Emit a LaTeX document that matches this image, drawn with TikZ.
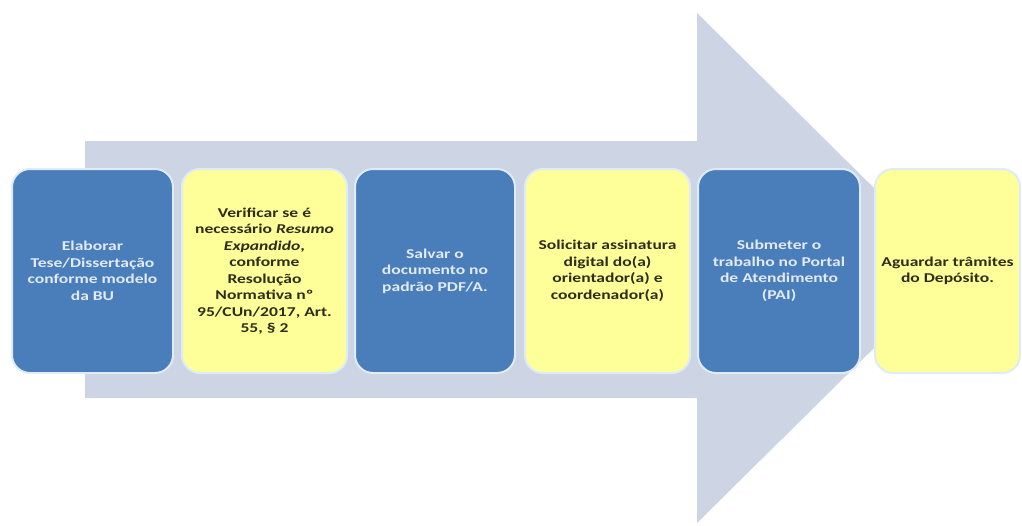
\documentclass[tikz,border=0pt]{standalone}
\usepackage{fontspec}
\setmainfont{Carlito}[FakeStretch=1.3]
\usetikzlibrary{positioning}

\definecolor{arrowgray}{RGB}{205,212,228}
\definecolor{stepblue}{RGB}{74,126,187}
\definecolor{stepyellow}{RGB}{255,255,153}
\definecolor{bluetext}{RGB}{225,234,245}
\definecolor{darktext}{RGB}{45,45,25}
\definecolor{rim}{RGB}{222,236,248}

\tikzset{
    etapa/.style={rounded corners=18pt, draw=rim, line width=2pt,
        minimum height=204pt, inner sep=0pt, align=center,
        font=\bfseries\fontsize{13.5}{16.5}\selectfont},
    azul/.style={etapa, fill=stepblue, text=bluetext},
    amarela/.style={etapa, fill=stepyellow, text=darktext}
}

\begin{document}
\begin{tikzpicture}[x=1pt, y=-1pt]
        \useasboundingbox (0,0) rectangle (1022,525);
        \fill[arrowgray] (85,141) -- (697,141) -- (697,13) -- (955,268)
            -- (697,523) -- (697,398) -- (85,398) -- cycle;
        \node[azul, minimum width=161pt] (e1) at (92.5,271)
            {Elaborar\\Tese/Dissertação\\conforme modelo\\da BU};
        \node[amarela, minimum width=165pt] (e2) at (264.5,271)
            {Verificar se é\\necessário \textit{Resumo}\\\textit{Expandido},\\conforme\\Resolução\\Normativa nº\\95/CUn/2017, Art.\\55, § 2};
        \node[azul, minimum width=160pt] (e3) at (435,271)
            {Salvar o\\documento no\\padrão PDF/A.};
        \node[amarela, minimum width=165pt] (e4) at (607.5,271)
            {Solicitar assinatura\\digital do(a)\\orientador(a) e\\coordenador(a)};
        \node[azul, minimum width=162pt] (e5) at (779,271)
            {Submeter o\\trabalho no Portal\\de Atendimento\\(PAI)};
        \node[amarela, minimum width=145pt] (e6) at (947.5,271)
            {Aguardar trâmites\\do Depósito.};
    \end{tikzpicture}
\end{document}
